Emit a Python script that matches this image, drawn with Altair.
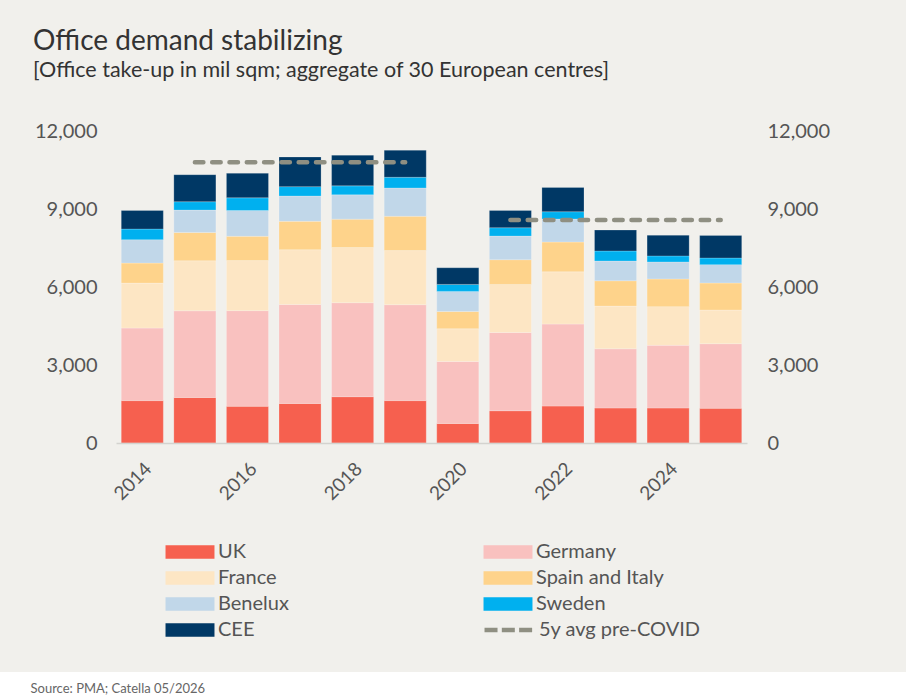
import altair as alt
import pandas as pd

# Office take-up by market, sqm
years = list(range(2014, 2026))
series = ["UK", "Germany", "France", "Spain and Italy", "Benelux", "Sweden", "CEE"]
colors = ["#f6604f", "#f9c1bf", "#fde6c4", "#fed38b", "#c1d7e9", "#00b0ef", "#003865"]

uk = [1630, 1750, 1410, 1520, 1780, 1630, 750, 1240, 1420, 1345, 1345, 1335]
germany = [2790, 3335, 3680, 3810, 3615, 3690, 2385, 3010, 3155, 2280, 2410, 2485]
france = [1730, 1925, 1925, 2105, 2125, 2080, 1260, 1850, 2010, 1640, 1490, 1295]
spain_italy = [770, 1090, 935, 1090, 1090, 1320, 665, 950, 1145, 975, 1065, 1040]
benelux = [900, 860, 990, 975, 935, 1090, 770, 910, 885, 760, 655, 705]
sweden = [410, 320, 490, 360, 345, 410, 270, 320, 280, 385, 230, 255]
cee = [715, 1040, 945, 1140, 1180, 1040, 640, 665, 935, 805, 795, 870]

# 5-year averages drawn as dashed segments
avg_label = "5y avg pre-COVID"
avg_start = [2015, 2021]
avg_end = [2019, 2025]
avg_value = [10800, 8580]

y_ticks = [0, 3000, 6000, 9000, 12000]
x_ticks = [2014, 2016, 2018, 2020, 2022, 2024]

values = [uk, germany, france, spain_italy, benelux, sweden, cee]
rows = []
for k, (name, vals) in enumerate(zip(series, values)):
    for yr, v in zip(years, vals):
        rows.append({"year": yr, "series": name, "order": k, "value": v})
bars_df = pd.DataFrame(rows)
avg_df = pd.DataFrame({"start": avg_start, "end": avg_end, "avg": avg_value,
                       "label": [avg_label] * len(avg_start)})

FONT = "Lato"
LABEL = "#555555"
BG = "#f1f0ec"
AVG_COLOR = "#8f8f82"

# wide legend swatches: a small nominal symbol size keeps rows compact
SWATCH = "M-2.88,-0.78H2.88V0.78H-2.88Z"
DASH = "M-2.88,0H2.88"

x_enc = alt.X(
    "year:O",
    scale=alt.Scale(paddingInner=0.2, paddingOuter=0.1),
    axis=alt.Axis(
        values=x_ticks, labelAngle=-45, labelFontSize=19, labelColor=LABEL,
        ticks=False, domainColor="#d4d3cf", domainWidth=1.5, labelPadding=16,
        title="Source: PMA; Catella 05/2026", titleX=-86, titleY=245,
        titleAlign="left", titleBaseline="middle", titleAngle=0,
        titleFontSize=13, titleFontWeight="normal", titleColor="#666666",
        zindex=1,
    ),
)

y_scale = alt.Scale(domain=[0, 12000], nice=False)

bars = alt.Chart(bars_df).mark_bar(
    stroke="white", strokeWidth=0.6, strokeOpacity=0.35
).encode(
    x=x_enc,
    y=alt.Y(
        "sum(value):Q", stack="zero", scale=y_scale,
        axis=alt.Axis(values=y_ticks, format=",.0f", orient="left", ticks=False,
                      domain=False, grid=False, labelFontSize=20,
                      labelColor=LABEL, labelPadding=19, title=None, zindex=1),
    ),
    color=alt.Color(
        "series:N",
        scale=alt.Scale(domain=series, range=colors),
        legend=alt.Legend(
            title=None, orient="none", legendX=64, legendY=411, columns=2,
            direction="horizontal", columnPadding=194, rowPadding=6,
            labelFontSize=20, labelColor=LABEL, labelOffset=18,
            symbolType=SWATCH, symbolSize=289,
            symbolStrokeWidth=0, symbolOpacity=1,
        ),
    ),
    order=alt.Order("order:Q", sort="ascending"),
)

avg = alt.Chart(avg_df).mark_rule(
    color=AVG_COLOR, strokeWidth=4.5, strokeCap="round", strokeDash=[8.5, 8.8]
).encode(
    x=alt.X("start:O"),
    x2="end:O",
    y=alt.Y(
        "avg:Q", scale=y_scale,
        axis=alt.Axis(values=y_ticks, format=",.0f", orient="right", ticks=False,
                      domain=False, grid=False, labelFontSize=20,
                      labelColor=LABEL, labelPadding=20, title=None, zindex=1),
    ),
    opacity=alt.Opacity(
        "label:N",
        scale=alt.Scale(domain=[avg_label], range=[1]),
        legend=alt.Legend(
            title=None, orient="none", legendX=382, legendY=488,
            labelFontSize=20, labelColor=LABEL, labelOffset=19, labelLimit=300,
            symbolType=DASH, symbolSize=289, symbolStrokeWidth=4.5,
            symbolStrokeColor=AVG_COLOR, symbolDash=[13, 4.3],
            symbolFillColor="transparent",
        ),
    ),
)

# white footer strip under the source line
footer = alt.Chart(avg_df).mark_rect(color="white").encode(
    x=alt.value(-116), x2=alt.value(790), y=alt.value(541), y2=alt.value(570)
)

chart = alt.layer(footer, bars, avg).resolve_scale(
    y="shared"
).resolve_axis(
    y="independent"
).properties(
    width=631,
    height=312,
    title=alt.TitleParams(
        text="Office demand stabilizing",
        subtitle="[Office take-up in mil sqm; aggregate of 30 European centres]",
        anchor="start", frame="group", dx=-83, offset=40,
        fontSize=28, fontWeight="normal", color="#333333",
        subtitleFontSize=21.5, subtitleColor="#333333", subtitlePadding=4,
    ),
    autosize=alt.AutoSizeParams(type="none"),
    padding={"left": 116, "top": 131, "right": 159, "bottom": 255},
).configure(
    font=FONT,
    background=BG,
).configure_view(
    stroke=None,
)

chart.save("out.html", embed_options={"renderer": "svg", "actions": False})
